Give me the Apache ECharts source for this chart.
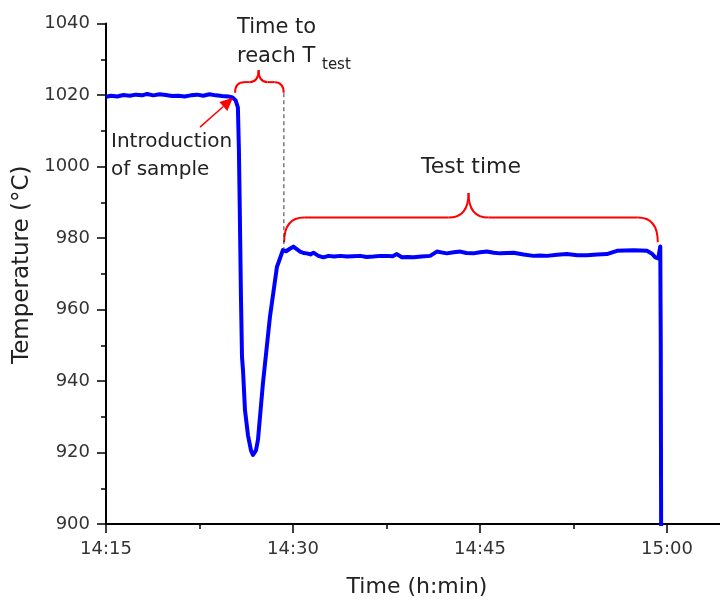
<!DOCTYPE html>
<html>
<head>
<meta charset="utf-8">
<script src="https://cdn.jsdelivr.net/npm/echarts@6/dist/echarts.min.js"></script>
<style>
html,body{margin:0;padding:0;background:#fff}
#chart{width:720px;height:600px}
</style>
</head>
<body>
<div id="chart"></div>
<script>
// time in minutes after 14:15, temperature in °C
var timeMin = [0.0, 0.4, 0.9, 1.4, 1.9, 2.4, 2.9, 3.3, 3.8, 4.3, 4.8, 5.3, 5.8, 6.3, 6.8, 7.3, 7.8, 8.3, 8.8, 9.3, 9.8,
	10.15, 10.40, 10.58, 10.66, 10.72, 10.83, 10.91, 10.99, 11.15, 11.39, 11.63, 11.79,
	12.03, 12.19, 12.59, 13.15, 13.71, 14.19, 14.45, 14.75, 15.03, 15.3, 15.57, 15.85, 16.1, 16.4, 16.64, 17.04, 17.44, 17.84,
	18.3, 18.8, 19.32, 19.8, 20.39, 20.9, 21.45, 22.0, 22.53, 23.0, 23.33, 23.73, 24.2, 24.66, 25.3, 26.0, 26.54,
	27.0, 27.34, 27.9, 28.41, 28.9, 29.48, 30.0, 30.55, 31.1, 31.62, 32.2, 32.69, 33.5, 34.29, 34.8, 35.37, 36.2, 36.97,
	37.8, 38.58, 39.4, 40.18, 40.99, 41.6, 42.32, 42.9, 43.39, 43.8, 44.06, 44.30, 44.46, 44.50, 44.54];
var tempC = [1019.5, 1019.8, 1019.6, 1020.0, 1019.8, 1020.1, 1019.9, 1020.3, 1019.9, 1020.2, 1020.0, 1019.7, 1019.8, 1019.6, 1019.9, 1020.1, 1019.8, 1020.2, 1019.9, 1019.7, 1019.6,
	1019.3, 1018.5, 1016.5, 1005.0, 990.6, 962.6, 946.7, 943.0, 931.8, 924.8, 920.6, 919.3,
	920.6, 923.5, 939.4, 957.9, 971.9, 976.6, 976.3, 977.0, 977.6, 976.9, 976.2, 975.8, 975.7, 975.4, 975.9, 975.0, 974.6, 975.0,
	974.8, 975.0, 974.8, 974.9, 975.0, 974.7, 974.8, 975.0, 975.0, 974.9, 975.5, 974.6, 974.7, 974.6, 974.8, 975.0, 976.2,
	975.9, 975.7, 976.0, 976.2, 975.8, 975.7, 976.0, 976.2, 975.9, 975.7, 975.8, 975.9, 975.4, 975.0, 975.1, 975.0, 975.3, 975.5,
	975.2, 975.2, 975.4, 975.5, 976.4, 976.5, 976.6, 976.5, 976.4, 975.6, 974.6, 974.3, 977.6, 950.0, 880.0];
var xTickLabels = ['14:15', '14:30', '14:45', '15:00'];

var FONT = 'DejaVu Sans';
var RED = '#ff0000';

var chart = echarts.init(document.getElementById('chart'));

var seriesData = [];
for (var i = 0; i < timeMin.length; i++) {
	seriesData.push([timeMin[i], tempC[i]]);
}

chart.setOption({
	animation: false,
	grid: {
		left: 106,
		right: -134,
		top: 23.5,
		bottom: 76,
		outerBoundsMode: 'none'
	},
	xAxis: {
		type: 'value',
		min: 0,
		max: 60,
		interval: 15,
		name: 'Time (h:min)',
		nameLocation: 'middle',
		nameGap: 52,
		nameTextStyle: {fontFamily: FONT, fontSize: 22, color: '#222', padding: [0, 126, 0, 0]},
		axisLine: {lineStyle: {color: '#000', width: 2}},
		axisTick: {length: 9, lineStyle: {color: '#000', width: 1.5}},
		minorTick: {show: true, splitNumber: 2, length: 5, lineStyle: {color: '#000', width: 1.5}},
		splitLine: {show: false},
		axisLabel: {
			fontFamily: FONT, fontSize: 18, color: '#333', margin: 16,
			showMaxLabel: false,
			formatter: function (v) {
				var k = Math.round(v / 15);
				return xTickLabels[k] || '';
			}
		}
	},
	yAxis: {
		type: 'value',
		min: 900,
		max: 1040,
		interval: 20,
		name: 'Temperature (°C)',
		nameLocation: 'middle',
		nameGap: 66,
		nameTextStyle: {fontFamily: FONT, fontSize: 23, color: '#222', padding: [0, 0, 0, 18]},
		axisLine: {show: true, lineStyle: {color: '#000', width: 2}},
		axisTick: {show: true, length: 9, lineStyle: {color: '#000', width: 1.5}},
		minorTick: {show: true, splitNumber: 2, length: 5, lineStyle: {color: '#000', width: 1.5}},
		splitLine: {show: false},
		axisLabel: {
			fontFamily: FONT, fontSize: 18, color: '#333', margin: 16,
			formatter: function (v) { return String(v); }
		}
	},
	series: [{
		type: 'line',
		data: seriesData,
		showSymbol: false,
		clip: true,
		lineStyle: {color: '#0000ff', width: 4, join: 'round'}
	}]
});

function px(t, T) {
	return chart.convertToPixel({gridIndex: 0}, [t, T]);
}

// curly brace opening downward; ends at yEnd, bar at yBar, tip at yTip
function brace(t0, t1, tTip, yEnd, yBar, yTip, r) {
	var a = px(t0, yEnd), b = px(t1, yEnd), c = px(tTip, yTip);
	var xL = a[0], xR = b[0], ye = a[1], xT = c[0], yt = c[1];
	var yb = px(t0, yBar)[1];
	var st = {stroke: RED, lineWidth: 2, fill: null};
	return [
		{type: 'bezierCurve', shape: {x1: xL, y1: ye, cpx1: xL, cpy1: yb, x2: xL + r, y2: yb}, style: st},
		{type: 'line', shape: {x1: xL + r, y1: yb, x2: xT - r, y2: yb}, style: st},
		{type: 'bezierCurve', shape: {x1: xT - r, y1: yb, cpx1: xT, cpy1: yb, x2: xT, y2: yt}, style: st},
		{type: 'bezierCurve', shape: {x1: xT, y1: yt, cpx1: xT, cpy1: yb, x2: xT + r, y2: yb}, style: st},
		{type: 'line', shape: {x1: xT + r, y1: yb, x2: xR - r, y2: yb}, style: st},
		{type: 'bezierCurve', shape: {x1: xR - r, y1: yb, cpx1: xR, cpy1: yb, x2: xR, y2: ye}, style: st}
	];
}

function label(text, x, y, size, align) {
	return {
		type: 'text', x: x, y: y, z: 10,
		style: {text: text, fontFamily: FONT, fontSize: size, fill: '#222', align: align || 'left', verticalAlign: 'middle'}
	};
}

var els = [];
els = els.concat(brace(10.35, 14.25, 12.24, 1020.6, 1023.6, 1027.0, 9));
els = els.concat(brace(14.29, 44.26, 29.08, 978.8, 985.7, 992.6, 20));

// dashed marker where T_test is reached
var d0 = px(14.27, 1020.5), d1 = px(14.27, 977.0);
els.push({type: 'line', z: 5, shape: {x1: d0[0], y1: d0[1], x2: d1[0], y2: d1[1]},
	style: {stroke: '#333', lineWidth: 1, lineDash: [4, 3]}});

// arrow to the sample introduction point
var a0 = px(7.54, 1011.0), a1 = px(10.19, 1019.2);
var dx = a1[0] - a0[0], dy = a1[1] - a0[1], len = Math.sqrt(dx * dx + dy * dy);
var ux = dx / len, uy = dy / len, hl = 13, hw = 6;
var bx = a1[0] - ux * hl, by = a1[1] - uy * hl;
els.push({type: 'line', z: 10, shape: {x1: a0[0], y1: a0[1], x2: bx, y2: by},
	style: {stroke: RED, lineWidth: 1.5}});
els.push({type: 'polygon', z: 10, shape: {points: [[a1[0], a1[1]], [bx - uy * hw, by + ux * hw], [bx + uy * hw, by - ux * hw]]},
	style: {fill: RED}});

els.push(label('Time to', 237, 28, 21));
els.push(label('reach T', 237, 57, 21));
els.push(label('test', 322, 65, 15));
els.push(label('Introduction', 111, 142, 20));
els.push(label('of sample', 111, 170, 20));
els.push(label('Test time', 471, 167, 22, 'center'));

chart.setOption({graphic: {elements: els}});
</script>
</body>
</html>
